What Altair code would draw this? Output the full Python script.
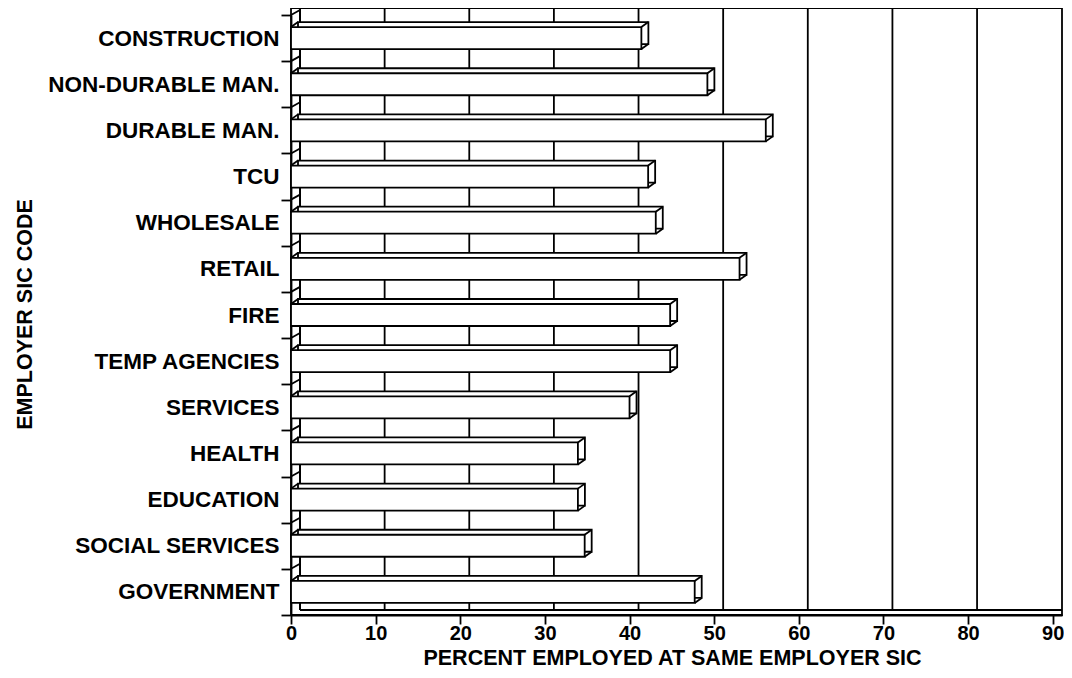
import altair as alt
import pandas as pd

categories = ["CONSTRUCTION", "NON-DURABLE MAN.", "DURABLE MAN.", "TCU", "WHOLESALE",
              "RETAIL", "FIRE", "TEMP AGENCIES", "SERVICES", "HEALTH", "EDUCATION",
              "SOCIAL SERVICES", "GOVERNMENT"]
percents = [41.4, 49.2, 56.1, 42.2, 43.1, 53.0, 44.8, 44.8, 40.0, 33.9, 33.9, 34.7, 47.7]
x_ticks = [0, 10, 20, 30, 40, 50, 60, 70, 80, 90]
wall_grid = [10, 20, 30, 40, 50, 60, 70, 80]

df = pd.DataFrame({"sic": categories, "pct": percents})
grid_df = pd.DataFrame({"v": wall_grid})

FONT = "Liberation Sans"
W, H = 771, 607
DX, DY = 7, 5          # 3-D depth of the bars
WALL = 9               # depth of back wall
FLOOR = 602            # y of back floor edge (plot coords)
SW = 1.8

xscale = alt.Scale(domain=[0, 91.1], nice=False, zero=True)
yscale = alt.Scale(domain=categories, range=[7, 607], paddingInner=0, paddingOuter=0)

xaxis = alt.Axis(title="PERCENT EMPLOYED AT SAME EMPLOYER SIC", values=x_ticks, grid=False,
                 tickSize=9, tickColor="black", tickWidth=SW,
                 domainColor="black", domainWidth=SW,
                 labelPadding=15, labelBaseline="alphabetic", labelFlush=False,
                 labelFont=FONT, labelFontSize=20, labelFontWeight="bold", labelColor="black",
                 titleFont=FONT, titleFontSize=21.5, titleFontWeight="bold", titleColor="black",
                 titleX=381, titleY=49, titleAlign="center", titleBaseline="alphabetic")
yaxis = alt.Axis(title="EMPLOYER SIC CODE", tickBand="extent", grid=False,
                 tickSize=10, tickColor="black", tickWidth=SW,
                 domainColor="black", domainWidth=SW,
                 labelPadding=2, labelLimit=400,
                 labelFont=FONT, labelFontSize=22.5, labelFontWeight="bold", labelColor="black",
                 titleFont=FONT, titleFontSize=21.5, titleFontWeight="bold", titleColor="black",
                 titleAngle=270, titleX=-260, titleY=306, titleAlign="center",
                 titleBaseline="alphabetic")

X = alt.X("pct:Q", scale=xscale, axis=xaxis)
Y = alt.Y("sic:N", scale=yscale, sort=categories, axis=yaxis)

# back wall grid lines
grid = alt.Chart(grid_df).mark_rule(stroke="black", strokeWidth=SW, xOffset=WALL).encode(
    x=alt.X("v:Q", scale=xscale, axis=xaxis),
    y=alt.value(0), y2=alt.value(FLOOR))
wall_left = alt.Chart(grid_df).mark_rule(stroke="black", strokeWidth=SW).encode(
    x=alt.value(WALL), y=alt.value(0), y2=alt.value(FLOOR))
floor = alt.Chart(grid_df).mark_rule(stroke="black", strokeWidth=SW).encode(
    x=alt.value(WALL), x2=alt.value(W), y=alt.value(FLOOR))
wall_slants = alt.Chart(df).mark_rule(stroke="black", strokeWidth=SW,
                                      yOffset=-23.1, y2Offset=-23.1 - DY).encode(
    x=alt.value(0), x2=alt.value(WALL), y=Y, y2=alt.Y2("sic:N"))

back = alt.Chart(df).mark_bar(size=22, fill="white", stroke="black", strokeWidth=SW,
                              xOffset=DX, x2Offset=DX, yOffset=-DY).encode(x=X, y=Y)
front = alt.Chart(df).mark_bar(size=22, fill="white", stroke="black", strokeWidth=SW).encode(x=X, y=Y)

diag_tr = alt.Chart(df).mark_rule(stroke="black", strokeWidth=SW, yOffset=-11,
                                  y2Offset=-11 - DY, x2Offset=DX).encode(
    x=X, x2=alt.X2("pct:Q"), y=Y, y2=alt.Y2("sic:N"))
diag_br = alt.Chart(df).mark_rule(stroke="black", strokeWidth=SW, yOffset=11,
                                  y2Offset=11 - DY, x2Offset=DX).encode(
    x=X, x2=alt.X2("pct:Q"), y=Y, y2=alt.Y2("sic:N"))
diag_tl = alt.Chart(df).mark_rule(stroke="black", strokeWidth=SW, yOffset=-11,
                                  y2Offset=-11 - DY).encode(
    x=alt.value(0), x2=alt.value(DX), y=Y, y2=alt.Y2("sic:N"))

chart = alt.layer(grid, wall_left, floor, wall_slants, back, front, diag_tr, diag_br, diag_tl).properties(
    width=W, height=H,
    autosize=alt.AutoSizeParams(type="none"),
    padding={"left": 283, "top": 0, "right": 2, "bottom": 55},
    background="white",
).configure_view(stroke="black", strokeWidth=SW)

chart.save("out.html", embed_options={"renderer": "svg", "actions": False})
